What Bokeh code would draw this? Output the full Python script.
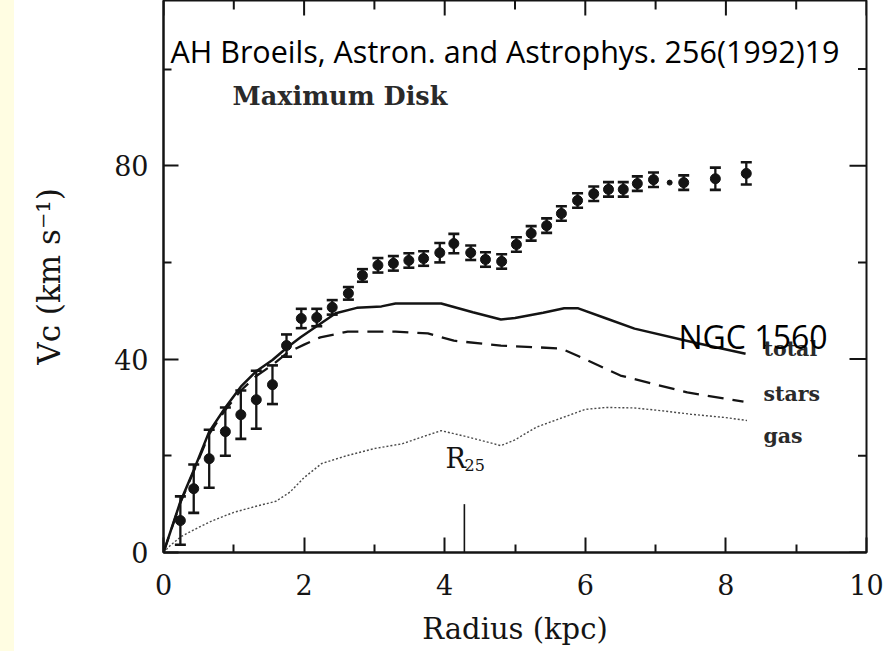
import math
from bokeh.plotting import figure
from bokeh.models import FixedTicker, Label, Div
from bokeh.layouts import row
from bokeh.embed import file_html
from bokeh.resources import INLINE

# ---------------- data ----------------
obs_r = [0.24, 0.43, 0.65, 0.88, 1.10, 1.32, 1.55, 1.75, 1.96, 2.18, 2.40, 2.63,
         2.83, 3.05, 3.27, 3.49, 3.70, 3.93, 4.13, 4.37, 4.58, 4.81, 5.02, 5.23,
         5.45, 5.66, 5.89, 6.12, 6.33, 6.54, 6.74, 6.97, 7.40, 7.85, 8.29]
obs_v = [6.6, 13.2, 19.4, 25.0, 28.5, 31.6, 34.7, 42.8, 48.4, 48.6, 50.7, 53.6,
         57.3, 59.4, 59.8, 60.4, 60.8, 62.0, 63.9, 62.0, 60.6, 60.2, 63.7, 66.0,
         67.6, 70.1, 72.8, 74.2, 75.1, 75.1, 76.3, 77.1, 76.5, 77.3, 78.4]
obs_err = [5.0, 5.0, 6.0, 5.0, 5.0, 6.0, 4.0, 2.3, 2.0, 1.8, 1.5, 1.3,
           1.3, 1.5, 1.5, 1.5, 1.5, 2.0, 2.0, 1.5, 1.5, 1.5, 1.5, 1.5,
           1.5, 1.5, 1.5, 1.5, 1.5, 1.5, 1.5, 1.5, 1.5, 2.3, 2.3]
small_r = [7.20]
small_v = [76.5]

total_r = [0.0, 0.24, 0.43, 0.65, 0.88, 1.10, 1.32, 1.55, 1.75, 1.95, 2.20, 2.45,
           2.75, 3.10, 3.30, 3.95, 4.40, 4.80, 5.00, 5.40, 5.70, 5.90, 6.30, 6.70,
           7.50, 8.28]
total_v = [0.0, 10.5, 17.0, 25.0, 30.0, 34.3, 37.5, 39.8, 42.3, 44.5, 47.0, 49.5,
           50.6, 50.9, 51.5, 51.5, 49.7, 48.2, 48.5, 49.6, 50.5, 50.5, 48.4, 46.3,
           43.6, 41.1]

stars_r = [0.0, 0.24, 0.43, 0.65, 0.88, 1.10, 1.32, 1.55, 1.76, 2.00, 2.23, 2.62,
           3.30, 3.76, 4.13, 4.80, 5.65, 5.89, 6.50, 7.45, 8.25]
stars_v = [0.0, 10.3, 16.8, 24.5, 29.5, 33.5, 36.5, 38.8, 41.3, 43.0, 44.5, 45.7,
           45.7, 45.3, 43.8, 42.8, 42.2, 40.7, 36.6, 33.1, 31.2]

gas_r = [0.0, 0.10, 0.25, 0.50, 0.70, 1.00, 1.30, 1.60, 1.80, 2.00, 2.25, 2.60,
         3.00, 3.40, 3.70, 3.95, 4.30, 4.80, 5.00, 5.30, 5.60, 6.00, 6.30, 6.70,
         7.10, 7.50, 8.00, 8.30]
gas_v = [0.0, 1.5, 3.3, 5.2, 6.6, 8.3, 9.5, 10.6, 12.5, 15.5, 18.4, 20.0,
         21.5, 22.5, 24.0, 25.2, 24.0, 22.1, 23.3, 25.9, 27.5, 29.6, 30.0, 29.9,
         29.3, 28.6, 27.9, 27.3]

r25 = 4.28
r25_bar = [0.0, 10.0]

x_ticks = [0, 2, 4, 6, 8, 10]
x_minor = [1, 3, 5, 7, 9]
y_ticks = [0, 40, 80, 120]
y_minor = [20, 60, 100]

# ---------------- layout helpers ----------------
X0_PX, PX_PER_KPC = 163.0, 70.3
Y0_PX, PX_PER_V = 552.0, 4.835
X_END = 10.0
Y_END = Y0_PX / PX_PER_V
BASE_FIX = 10  # Label baseline correction in px

def dx(px):
    return (px - X0_PX) / PX_PER_KPC
def dy(py):
    return (Y0_PX - py + BASE_FIX) / PX_PER_V

INK = "#141414"
SERIF = "DejaVu Serif"

p = figure(width=875, height=651, x_range=(0, X_END), y_range=(0, Y_END),
           output_backend="svg", toolbar_location=None,
           min_border_left=149, min_border_right=23, min_border_bottom=99,
           min_border_top=0)
p.grid.visible = False
p.outline_line_color = INK
p.outline_line_width = 2
p.background_fill_color = "white"
p.border_fill_color = "white"

for ax in (p.xaxis[0], p.yaxis[0]):
    ax.axis_line_color = INK
    ax.axis_line_width = 2
    ax.major_tick_line_color = INK
    ax.minor_tick_line_color = INK
    ax.major_tick_line_width = 2
    ax.minor_tick_line_width = 2
    ax.major_tick_in = 15
    ax.major_tick_out = 0
    ax.minor_tick_in = 8
    ax.minor_tick_out = 0
    ax.major_label_text_font = SERIF
    ax.major_label_text_color = INK
    ax.major_label_text_font_size = "27px"
    ax.axis_label_text_font = SERIF
    ax.axis_label_text_font_style = "normal"
    ax.axis_label_text_color = INK

p.xaxis.ticker = FixedTicker(ticks=x_ticks, minor_ticks=x_minor)
p.yaxis.ticker = FixedTicker(ticks=y_ticks, minor_ticks=y_minor)
p.xaxis.major_label_standoff = 21
p.yaxis.major_label_standoff = 15
p.xaxis.axis_label = "Radius (kpc)"
p.xaxis.axis_label_text_font_size = "29px"
p.xaxis.axis_label_standoff = 14
p.yaxis.axis_label = "Vᴄ (km s⁻¹)"
p.yaxis.axis_label_text_font_size = "31px"
p.yaxis.axis_label_standoff = 44

# inward ticks on the right and top frame edges (half of each dash is clipped)
p.scatter([X_END] * len(y_ticks), y_ticks, marker="dash", size=34, line_color=INK, line_width=2)
p.scatter([X_END] * len(y_minor), y_minor, marker="dash", size=17, line_color=INK, line_width=2)
p.scatter(x_ticks, [Y_END] * len(x_ticks), marker="dash", size=30, angle=math.pi / 2,
          line_color=INK, line_width=2)
p.scatter(x_minor, [Y_END] * len(x_minor), marker="dash", size=18, angle=math.pi / 2,
          line_color=INK, line_width=2)

# ---------------- model curves ----------------
p.line(gas_r, gas_v, line_color="#4a4a4a", line_width=1.4, line_dash="2 2")
p.line(stars_r, stars_v, line_color=INK, line_width=2.3, line_dash="16 9")
p.line(total_r, total_v, line_color=INK, line_width=2.5)

# R25 marker
p.segment(x0=[r25], y0=[r25_bar[0]], x1=[r25], y1=[r25_bar[1]], line_color=INK, line_width=1.6)

# ---------------- observations ----------------
lo = [v - e for v, e in zip(obs_v, obs_err)]
hi = [v + e for v, e in zip(obs_v, obs_err)]
p.segment(x0=obs_r, y0=lo, x1=obs_r, y1=hi, line_color=INK, line_width=2.3)
p.scatter(obs_r, lo, marker="dash", size=11, line_color=INK, line_width=2.6)
p.scatter(obs_r, hi, marker="dash", size=11, line_color=INK, line_width=2.6)
p.scatter(obs_r, obs_v, marker="circle", size=10, fill_color=INK, line_color=INK)
p.scatter(small_r, small_v, marker="circle", size=5, fill_color=INK, line_color=INK)

# ---------------- texts ----------------
def lab(text, px, py, size, font=SERIF, style="normal", align="left", color=INK):
    p.add_layout(Label(x=dx(px), y=dy(py), text=text, text_font=font,
                       text_font_size=f"{size}px", text_font_style=style,
                       text_align=align, text_baseline="alphabetic",
                       text_color=color))

lab("AH Broeils, Astron. and Astrophys. 256(1992)19", 170, 60, 30.5, font="Open Sans", color="black")
lab("Maximum Disk", 232, 105, 25.5, style="bold", color="#2a2a2a")
lab("total", 763, 358, 20.5, style="bold", color="#2a2a2a")
lab("stars", 763, 403, 20.5, style="bold", color="#2a2a2a")
lab("gas", 763, 445, 20.5, style="bold", color="#2a2a2a")
lab("NGC 1560", 678, 346, 32, font="Open Sans", color="black")
lab("R", 445, 468, 27)
lab("25", 464, 474, 16)

strip = Div(width=14, height=651, margin=0, styles={"background-color": "#FFFDE2"})
layout = row(strip, p, spacing=0)

open("out.html", "w").write(file_html(layout, INLINE))
